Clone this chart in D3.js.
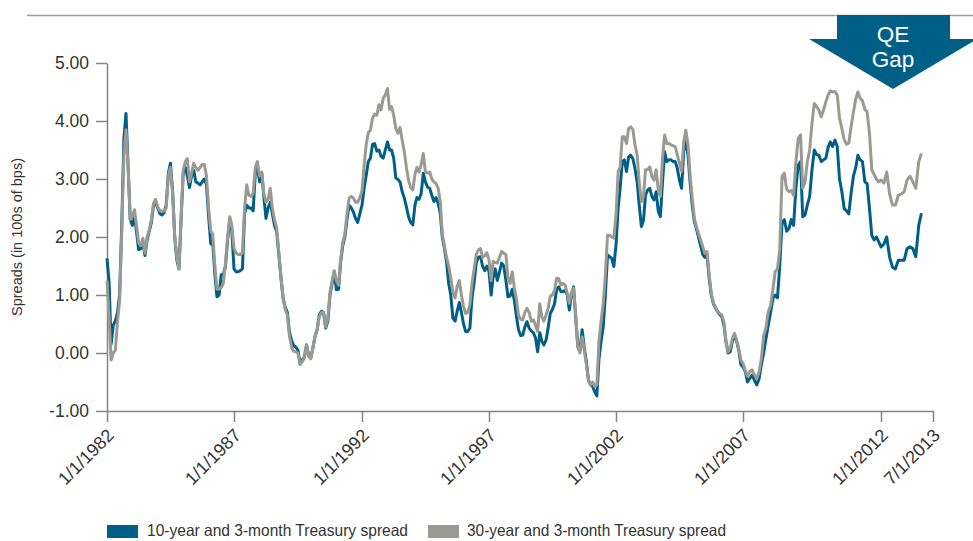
<!DOCTYPE html>
<html>
<head>
<meta charset="utf-8">
<script src="https://cdn.jsdelivr.net/npm/d3@7"></script>
<style>
  html, body { margin: 0; padding: 0; background: #ffffff; }
  svg { display: block; font-family: "Liberation Sans", Arial, Helvetica, sans-serif; }
</style>
</head>
<body>
<svg id="chart" width="973" height="541"></svg>
<script>
// ---- Data: monthly Treasury curve spreads (percentage points), from January 1982 ----
const seriesNames = ["10-year and 3-month Treasury spread", "30-year and 3-month Treasury spread"];
const firstMonth = "1982-01-01";

const tenYearSpread = [
  1.63, 1.2, 0.15, 0.48, 0.55, 0.7, 1.0, 2.2, 3.7, 4.13, 3.2, 2.3,
  2.2, 2.35, 2.1, 1.78, 1.8, 1.9, 1.68, 1.95, 2.1, 2.25, 2.55, 2.6,
  2.5, 2.4, 2.38, 2.42, 2.55, 3.1, 3.27, 2.8, 2.0, 1.6, 1.45, 2.3,
  3.1, 3.2, 3.05, 2.85, 3.05, 3.15, 2.95, 2.93, 2.9, 2.95, 3.0, 2.9,
  2.35, 1.88, 1.9, 1.35, 0.97, 1.0, 1.35, 1.35, 1.5, 1.95, 2.3, 2.1,
  1.45, 1.4, 1.4, 1.42, 1.45, 2.4, 2.55, 2.5, 2.5, 2.45, 3.1, 3.2,
  2.95, 3.1, 2.7, 2.32, 2.5, 2.6, 2.4, 2.2, 2.09, 1.7, 1.3, 0.95,
  0.78, 0.7, 0.37, 0.22, 0.13, 0.1, 0.05, -0.18, -0.12, -0.07, 0.14, -0.04,
  -0.08, 0.1, 0.28, 0.4, 0.65, 0.72, 0.7, 0.43, 0.55, 1.0, 1.2, 1.4,
  1.09, 1.1, 1.55, 1.85, 2.0, 2.3, 2.55, 2.5, 2.43, 2.32, 2.25, 2.4,
  2.55, 2.84, 3.06, 3.3, 3.36, 3.6, 3.61, 3.48, 3.5, 3.39, 3.36, 3.5,
  3.64, 3.5, 3.5, 3.36, 3.02, 2.99, 2.95, 2.78, 2.67, 2.52, 2.35, 2.25,
  2.21, 2.55, 2.68, 2.65, 2.75, 3.1, 2.95, 2.86, 2.84, 2.72, 2.61, 2.68,
  2.58, 2.4, 2.0, 1.8, 1.57, 1.2, 1.0, 0.6, 0.55, 0.72, 0.87, 0.7,
  0.5, 0.37, 0.37, 0.43, 0.95, 1.22, 1.55, 1.65, 1.66, 1.5, 1.42, 1.5,
  1.4, 1.0, 1.3, 1.45, 1.25, 1.4, 1.55, 1.5, 1.25, 0.97, 0.98, 1.1,
  0.9, 0.62, 0.4, 0.3, 0.31, 0.45, 0.54, 0.43, 0.38, 0.35, 0.26, 0.02,
  0.35, 0.2, 0.14, 0.22, 0.43, 0.68, 0.75, 0.85, 1.1, 1.14, 1.06, 1.06,
  1.08, 1.0, 0.74, 1.0, 1.14, 0.6, 0.12, 0.05, 0.4, 0.1, -0.15, -0.47,
  -0.55, -0.58, -0.67, -0.74, -0.1, 0.2, 0.45, 1.0, 1.69, 1.66, 1.63, 1.49,
  1.86, 2.5, 2.84, 3.3, 3.33, 3.13, 3.38, 3.41, 3.35, 3.18, 2.95, 2.55,
  2.18, 2.29, 2.72, 2.81, 2.84, 2.7, 2.64, 2.78, 2.44, 2.35, 2.95, 3.47,
  3.3, 3.33, 3.33, 3.3, 3.3, 3.18, 2.98, 2.84, 3.47, 3.67, 3.41, 2.95,
  2.55, 2.26, 2.15, 2.0, 1.85, 1.7, 1.65, 1.7, 1.3, 1.0, 0.85, 0.78,
  0.71, 0.66, 0.63, 0.48, 0.2, 0.0, 0.02, 0.2, 0.31, 0.2, 0.05, -0.2,
  -0.24, -0.32, -0.5, -0.44, -0.38, -0.47, -0.55, -0.45, -0.2, 0.0, 0.25, 0.48,
  0.7, 0.94, 1.0, 0.95, 1.5, 2.25, 2.3, 2.1, 2.15, 2.3, 2.2, 2.85,
  3.24, 3.3, 2.35, 2.38, 2.55, 2.7, 3.15, 3.5, 3.42, 3.41, 3.3, 3.33,
  3.36, 3.55, 3.64, 3.56, 3.67, 3.56, 3.0, 2.78, 2.49, 2.45, 2.4, 2.75,
  3.05, 3.2, 3.41, 3.33, 3.3, 2.95, 2.92, 2.5, 2.03, 1.95, 2.0, 1.92,
  1.83, 1.88, 2.0, 1.65, 1.48, 1.45, 1.6, 1.6, 1.6, 1.8, 1.83, 1.8,
  1.66, 2.2, 2.41
];

const thirtyYearSpread = [
  1.25, 0.6, -0.12, 0.0, 0.05, 0.55, 0.9, 2.1, 3.4, 3.85, 3.2, 2.3,
  2.35, 2.47, 2.2, 1.9, 1.85, 1.98, 1.72, 2.0, 2.12, 2.3, 2.58, 2.65,
  2.52, 2.45, 2.45, 2.45, 2.5, 3.05, 3.2, 2.75, 2.0, 1.65, 1.45, 2.35,
  3.15, 3.3, 3.35, 2.95, 3.1, 3.27, 3.2, 3.15, 3.2, 3.25, 3.25, 3.05,
  2.5, 2.1, 2.05, 1.5, 1.1, 1.1, 1.13, 1.2, 1.55, 2.0, 2.35, 2.2,
  1.8, 1.72, 1.7, 1.7, 1.72, 2.5, 2.9, 2.72, 2.7, 2.75, 3.2, 3.3,
  3.05, 3.12, 2.75, 2.6, 2.65, 2.84, 2.5, 2.3, 2.15, 1.75, 1.3, 0.95,
  0.75, 0.65, 0.3, 0.1, 0.03, 0.02, 0.0, -0.2, -0.15, -0.08, 0.14, -0.06,
  -0.1, 0.1, 0.28, 0.4, 0.62, 0.7, 0.7, 0.45, 0.6, 1.05, 1.25, 1.42,
  1.24, 1.17, 1.6, 1.9, 2.05, 2.4, 2.67, 2.7, 2.67, 2.6, 2.6, 2.68,
  2.8, 3.24, 3.59, 3.8, 3.84, 4.05, 4.12, 4.1, 4.28, 4.19, 4.39, 4.45,
  4.56, 4.2, 4.25, 4.1, 3.87, 3.79, 3.89, 3.67, 3.47, 3.2, 2.98, 2.85,
  2.81, 3.08, 3.2, 3.12, 3.25, 3.44, 3.12, 3.1, 3.12, 3.0, 2.95, 2.92,
  2.84, 2.6, 2.05, 1.85, 1.65, 1.5, 1.3, 1.05, 0.95, 1.15, 1.25, 1.0,
  0.8, 0.68, 0.7, 0.83, 1.2, 1.45, 1.7, 1.78, 1.8, 1.65, 1.68, 1.73,
  1.6, 1.25, 1.58, 1.56, 1.55, 1.65, 1.75, 1.72, 1.7, 1.3, 1.2, 1.4,
  1.12, 0.92, 0.65, 0.58, 0.57, 0.7, 0.77, 0.7, 0.55, 0.57, 0.48, 0.37,
  0.85, 0.62, 0.55, 0.65, 0.77, 0.98, 1.0, 1.08, 1.29, 1.28, 1.17, 1.2,
  1.17, 1.03, 0.86, 1.05, 1.12, 0.65, 0.1, 0.0, 0.28, 0.05, -0.2, -0.47,
  -0.55, -0.5, -0.58, -0.55, 0.2, 0.55, 0.85, 1.35, 2.03, 2.03, 2.0, 1.98,
  2.38, 3.13, 3.2, 3.73, 3.73, 3.61, 3.87, 3.9, 3.85, 3.59, 3.41, 2.95,
  2.61, 2.7, 3.16, 3.16, 3.21, 3.04, 2.98, 3.16, 2.81, 2.7, 3.36, 3.76,
  3.61, 3.61, 3.59, 3.57, 3.56, 3.41, 3.27, 3.13, 3.64, 3.84, 3.59, 3.07,
  2.67, 2.32, 2.18, 2.06, 1.95, 1.83, 1.72, 1.75, 1.36, 1.03, 0.87, 0.78,
  0.71, 0.68, 0.66, 0.54, 0.2, 0.02, 0.08, 0.25, 0.34, 0.22, 0.08, -0.12,
  -0.18, -0.3, -0.4, -0.32, -0.29, -0.38, -0.44, -0.33, -0.1, 0.3, 0.43, 0.71,
  0.82, 1.1, 1.4, 1.45, 1.78, 3.05, 3.1, 2.82, 2.78, 2.8, 2.72, 3.3,
  3.7, 3.76, 2.84, 2.95, 3.3, 3.5, 3.95, 4.3, 4.25, 4.19, 4.07, 4.19,
  4.33, 4.45, 4.52, 4.5, 4.51, 4.45, 4.05, 3.87, 3.68, 3.6, 3.62, 3.9,
  4.15, 4.38, 4.5, 4.39, 4.35, 4.2, 4.16, 3.8, 3.16, 3.08, 3.0, 2.95,
  2.98, 2.93, 3.12, 2.74, 2.55, 2.55, 2.72, 2.74, 2.78, 2.98, 3.05, 2.95,
  2.84, 3.3, 3.44
];

const yTickValues = [-1, 0, 1, 2, 3, 4, 5];
const xTickDates = ["1982-01-01", "1987-01-01", "1992-01-01", "1997-01-01",
                    "2002-01-01", "2007-01-01", "2012-01-01", "2013-07-01"];
const xTickLabels = ["1/1/1982", "1/1/1987", "1/1/1992", "1/1/1997",
                     "1/1/2002", "1/1/2007", "1/1/2012", "7/1/2013"];
const calloutText = ["QE", "Gap"];
const yAxisTitle = "Spreads (in 100s of bps)";

// ---- Layout ----
const svg = d3.select("#chart");
const plot = { left: 107, top: 63, right: 933, bottom: 411 };
// widths of the date-axis segments between consecutive labelled dates
const segmentWidths = [127, 128, 127, 127, 127, 138, 52];
const blue = "#005f86";
const grey = "#9b9a92";
const axisColor = "#858585";
const textColor = "#333333";

const parseDate = d3.timeParse("%Y-%m-%d");
const tickDates = xTickDates.map(parseDate);
const xRange = [plot.left];
segmentWidths.forEach(w => xRange.push(xRange[xRange.length - 1] + w));

const x = d3.scaleTime().domain(tickDates).range(xRange);
const y = d3.scaleLinear().domain([-1, 5]).range([plot.bottom, plot.top]);

const start = parseDate(firstMonth);
const toPoints = vals => vals.map((v, i) => ({ date: d3.timeMonth.offset(start, i), v }));
const series = [
  { name: seriesNames[0], color: blue, points: toPoints(tenYearSpread) },
  { name: seriesNames[1], color: grey, points: toPoints(thirtyYearSpread) }
];

// top rule
svg.append("line")
  .attr("x1", 27).attr("x2", 973).attr("y1", 15.5).attr("y2", 15.5)
  .attr("stroke", "#9d9d9d").attr("stroke-width", 1.5);

// y axis
const yAxis = svg.append("g")
  .attr("transform", `translate(${plot.left},0)`)
  .call(d3.axisLeft(y).tickValues(yTickValues).tickFormat(d => d.toFixed(2))
    .tickSize(11).tickSizeOuter(0).tickPadding(7));
yAxis.select(".domain").attr("stroke", axisColor).attr("stroke-width", 1.5);
yAxis.selectAll(".tick line").attr("stroke", axisColor).attr("stroke-width", 1.5);
yAxis.selectAll(".tick text")
  .attr("fill", textColor).style("font-size", "17.5px");

// x axis
const xAxis = svg.append("g")
  .attr("transform", `translate(0,${plot.bottom})`)
  .call(d3.axisBottom(x).tickValues(tickDates).tickFormat((d, i) => xTickLabels[i])
    .tickSize(11).tickSizeOuter(0));
xAxis.select(".domain").attr("stroke", axisColor).attr("stroke-width", 1.5);
xAxis.selectAll(".tick line").attr("stroke", axisColor).attr("stroke-width", 1.5);
xAxis.selectAll(".tick text")
  .attr("fill", textColor).style("font-size", "18px")
  .attr("text-anchor", "end")
  .attr("x", 0).attr("y", 0).attr("dy", "0.35em")
  .attr("transform", "translate(3,21) rotate(-45)");

// y axis title
svg.append("text")
  .attr("transform", `translate(22,${(plot.top + plot.bottom) / 2}) rotate(-90)`)
  .attr("text-anchor", "middle")
  .attr("fill", textColor).style("font-size", "14.5px")
  .text(yAxisTitle);

// spread lines
const line = d3.line().x(d => x(d.date)).y(d => y(d.v));
svg.append("g").selectAll("path")
  .data(series)
  .join("path")
  .attr("d", d => line(d.points))
  .attr("fill", "none")
  .attr("stroke", d => d.color)
  .attr("stroke-width", 3)
  .attr("stroke-linejoin", "round");

// QE gap callout arrow
const cx = 893;
const arrow = [[cx - 56, 15], [cx + 57, 15], [cx + 57, 39], [cx + 84, 39],
               [cx, 89], [cx - 84, 39], [cx - 56, 39]];
svg.append("polygon")
  .attr("points", arrow.map(p => p.join(",")).join(" "))
  .attr("fill", blue);
svg.append("g").selectAll("text")
  .data(calloutText)
  .join("text")
  .attr("x", cx).attr("y", (d, i) => 42 + i * 25)
  .attr("text-anchor", "middle")
  .attr("fill", "#ffffff").style("font-size", "22.5px")
  .text(d => d);

// legend
const legendItems = [
  { x: 107, textX: 147, width: 261 },
  { x: 428, textX: 467, width: 259 }
];
const legend = svg.append("g");
legend.selectAll("rect")
  .data(series)
  .join("rect")
  .attr("x", (d, i) => legendItems[i].x).attr("y", 525)
  .attr("width", 31).attr("height", 13)
  .attr("fill", d => d.color);
legend.selectAll("text")
  .data(series)
  .join("text")
  .attr("x", (d, i) => legendItems[i].textX).attr("y", 536)
  .attr("textLength", (d, i) => legendItems[i].width)
  .attr("lengthAdjust", "spacingAndGlyphs")
  .attr("fill", textColor).style("font-size", "16.5px")
  .text(d => d.name);
</script>
</body>
</html>
